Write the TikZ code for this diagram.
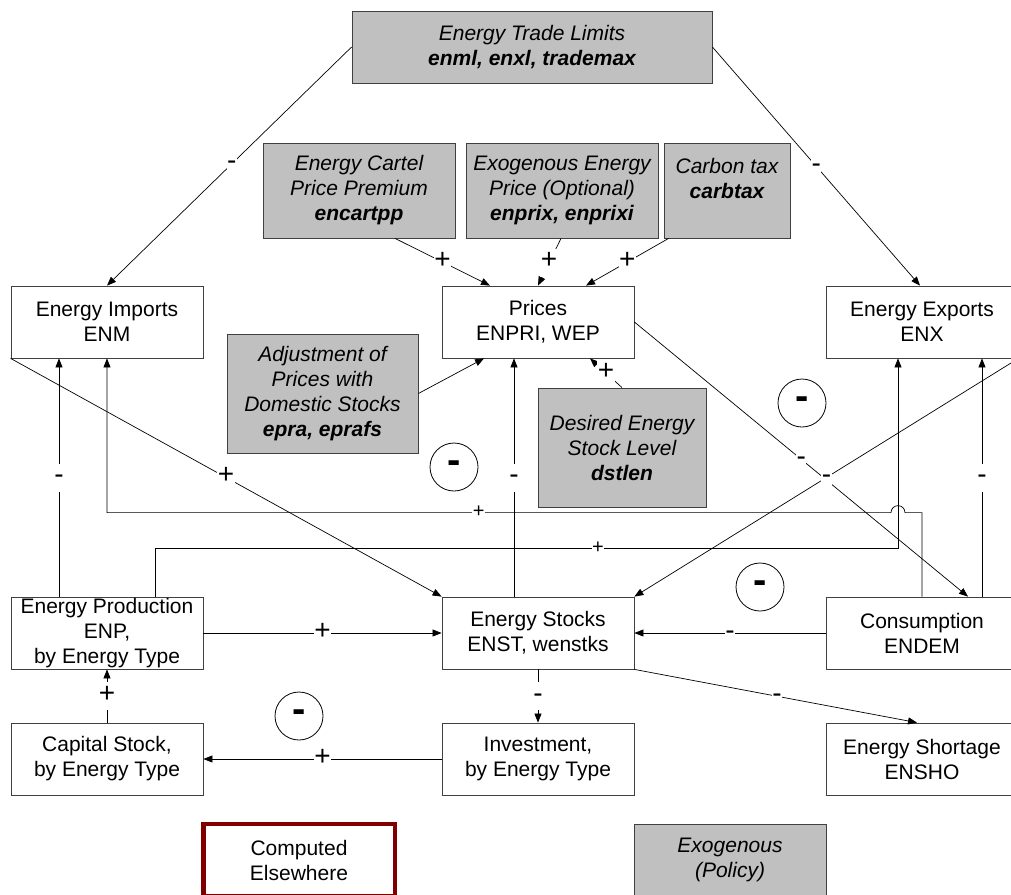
\documentclass[tikz,border=0pt]{standalone}
\usepackage{fontspec}
\setmainfont{Liberation Sans}
\usetikzlibrary{arrows.meta}
\definecolor{exofill}{RGB}{192,192,192}
\definecolor{compred}{RGB}{128,0,0}
\begin{document}
\begin{tikzpicture}[x=1pt,y=-1pt,
  plainbox/.style={draw=black!75, line width=0.8pt, minimum width=192pt, minimum height=72pt,
    inner sep=0pt, align=center, font=\fontsize{21}{25}\selectfont},
  exobox/.style={plainbox, fill=exofill, font=\fontsize{21}{25}\selectfont\itshape},
  conn/.style={draw=black, line width=0.7pt, -{Triangle[length=9pt,width=7pt]}},
  lab/.style={fill=white, inner xsep=0.5pt, inner ysep=1pt, text height=19pt, text depth=7pt,
    font=\fontsize{28}{28}\selectfont},
  smalllab/.style={fill=white, inner xsep=0.5pt, inner ysep=1pt, text height=13pt, text depth=4pt,
    font=\fontsize{20}{20}\selectfont},
  loopsign/.style={circle, draw=black, line width=0.8pt, minimum size=48pt, inner sep=0pt,
    font=\fontsize{40}{40}\selectfont\bfseries}]
\useasboundingbox (0,0) rectangle (1011,894);

% exogenous inputs
\node[exobox, minimum width=360pt] (trade) at (532,47) {Energy Trade Limits\\\textbf{enml, enxl, trademax}};
\node[exobox, minimum height=95pt] (cartel) at (359,190.5) {Energy Cartel\\Price Premium\\\textbf{encartpp}};
\node[exobox, minimum height=95pt] (exprice) at (562,190.5) {Exogenous Energy\\Price (Optional)\\\textbf{enprix, enprixi}};
\node[exobox, minimum width=126pt, minimum height=95pt] (carb) at (727,190.5) {Carbon tax\\\textbf{carbtax}\\\mbox{}};
\node[exobox, minimum width=191pt, minimum height=119pt] (adjust) at (322.5,393.5) {Adjustment of\\Prices with\\Domestic Stocks\\\textbf{epra, eprafs}};
\node[exobox, minimum width=168pt, minimum height=119pt] (desired) at (622,447.5) {Desired Energy\\Stock Level\\\textbf{dstlen}};

% model variables
\node[plainbox] (imports) at (107,322) {Energy Imports\\ENM};
\node[plainbox] (prices) at (538,322) {Prices\\ENPRI, WEP};
\node[plainbox] (exports) at (922,322) {Energy Exports\\ENX};
\node[plainbox] (prod) at (107,633) {Energy Production\\ENP,\\by Energy Type};
\node[plainbox] (stocks) at (538,633) {Energy Stocks\\ENST, wenstks};
\node[plainbox] (cons) at (922,633) {Consumption\\ENDEM};
\node[plainbox] (cap) at (107,759) {Capital Stock,\\by Energy Type};
\node[plainbox] (inv) at (538,759) {Investment,\\by Energy Type};
\node[plainbox] (short) at (922,759) {Energy Shortage\\ENSHO};

% legend
\node[plainbox, draw=compred, line width=4.5pt, minimum width=191.5pt] (computed) at (299,860) {Computed\\Elsewhere};
\node[exobox] (exolegend) at (730,860) {Exogenous\\(Policy)};

% feedback loop markers
\node[loopsign] (loopA) at (454,467) {-};
\node[loopsign] (loopB) at (802,403) {-};
\node[loopsign] (loopC) at (760,587) {-};
\node[loopsign] (loopD) at (299,716) {-};

% trade limits
\draw[conn] (trade.west) -- node[lab, pos=0.49]{-} (imports.north);
\draw[conn] (trade.east) -- node[lab, pos=0.5]{-} ([xshift=-2pt]exports.north);

% price drivers
\draw[conn] ([xshift=36pt]cartel.south) -- node[lab, pos=0.5]{+} ([xshift=-48pt]prices.north);
\draw[conn] ([xshift=-1pt]exprice.south) -- node[lab, pos=0.52]{+} (prices.north);
\draw[conn] ([xshift=5pt]carb.south west) -- node[lab, pos=0.5]{+} ([xshift=48pt]prices.north);
\draw[conn] (adjust.east) -- ([xshift=-54pt]prices.south);
\draw[conn] (desired.north) -- node[lab, pos=0.5]{+} ([xshift=52pt]prices.south);

% links between imports, exports, prices and stocks
\draw[conn] (imports.south west) -- node[lab, pos=0.5]{+} (stocks.north west);
\draw[conn] (prices.east) -- node[lab, pos=0.5]{-} ([xshift=46pt]cons.north);
\draw[conn] (exports.south east) -- node[lab, pos=0.5]{-} (stocks.north east);
\draw[conn] ([xshift=-48pt]prod.north) -- node[lab, pos=0.5]{-} ([xshift=-48pt]imports.south);
\draw[conn] ([xshift=48pt]prod.north) -- ++(0,-48) -| node[smalllab, pos=0.298]{+} ([xshift=-24pt]exports.south);
\draw[conn] (cons.north) -- ++(0,-84) -- ++(-17,0) arc[start angle=0, end angle=180, radius=7pt]
  -| node[smalllab, pos=0.263]{+} (imports.south);
\draw[conn] ([xshift=-24pt]stocks.north) -- node[lab, pos=0.5]{-} ([xshift=-24pt]prices.south);
\draw[conn] ([xshift=60pt]cons.north) -- node[lab, pos=0.5]{-} ([xshift=60pt]exports.south);

% stock flows
\draw[conn] (prod.east) -- node[lab, pos=0.5]{+} (stocks.west);
\draw[conn] (cons.west) -- node[lab, pos=0.5]{-} (stocks.east);
\draw[conn] (stocks.south) -- node[lab, pos=0.5]{-} (inv.north);
\draw[conn] (stocks.south east) -- node[lab, pos=0.505]{-} ([xshift=-5pt]short.north);
\draw[conn] (cap.north) -- node[lab, pos=0.5]{+} (prod.south);
\draw[conn] (inv.west) -- node[lab, pos=0.5]{+} (cap.east);
\end{tikzpicture}
\end{document}
